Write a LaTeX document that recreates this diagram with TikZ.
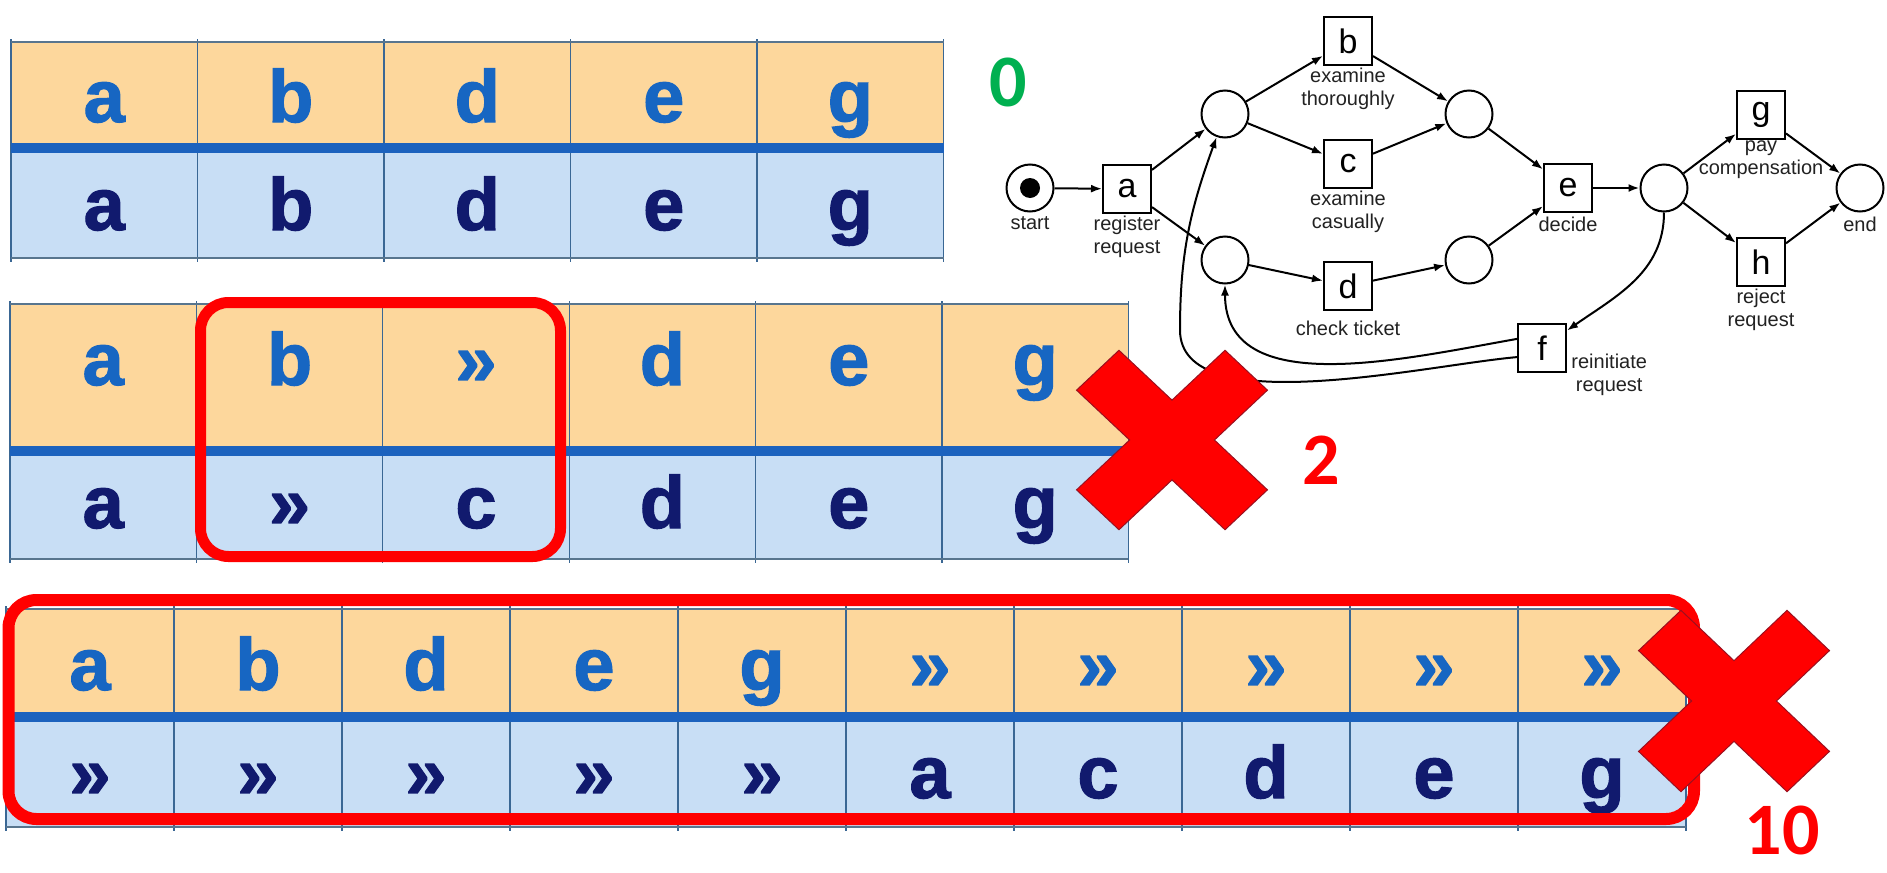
\documentclass[tikz,border=0pt]{standalone}
\usepackage{fontspec}
\setmainfont{Liberation Sans}
\newfontfamily\movefont{Liberation Sans}[BoldFeatures={FakeBold=1.6}]
\newfontfamily\scorefont{Carlito}
\usetikzlibrary{arrows.meta,positioning}

\definecolor{logpeach}{HTML}{FDD79C}
\definecolor{modelblue}{HTML}{C8DEF5}
\definecolor{logletter}{HTML}{1766C2}
\definecolor{modelletter}{HTML}{111A6E}
\definecolor{sepblue}{HTML}{1C62BE}
\definecolor{gridblue}{HTML}{3A6794}
\definecolor{rimgray}{HTML}{58758E}
\definecolor{markred}{HTML}{FF0000}
\definecolor{markedge}{HTML}{9A1020}
\definecolor{okgreen}{HTML}{00B050}
\definecolor{netgray}{HTML}{222222}

\tikzset{
  logfill/.style={fill=logpeach},
  modelfill/.style={fill=modelblue},
  gridline/.style={draw=gridblue, line width=0.6pt},
  rimline/.style={draw=rimgray, line width=1.4pt},
  sepline/.style={draw=sepblue, line width=5pt},
  logmove/.style={anchor=base, inner sep=0pt, text=logletter,
    font=\movefont\fontsize{37}{40}\selectfont\bfseries},
  modelmove/.style={anchor=base, inner sep=0pt, text=modelletter,
    font=\movefont\fontsize{37}{40}\selectfont\bfseries},
  costbox/.style={draw=markred, line width=5.5pt, rounded corners=14pt},
  crossmark/.style={fill=markred, draw=markedge, line width=0.5pt},
  score/.style={inner sep=0pt, font=\scorefont\fontsize{37}{40}\selectfont\bfseries},
  % Petri-Netz
  place/.style={circle, draw, line width=1pt, minimum size=23.5pt, inner sep=0pt},
  trans/.style={rectangle, draw, line width=1pt, minimum size=24pt, inner sep=0pt,
    font=\fontsize{17}{17}\selectfont},
  lbl/.style={font=\fontsize{10}{11.5}\selectfont, text=netgray, align=center, inner sep=1pt},
  arc/.style={-{Latex[length=5.5pt,width=4pt]}, line width=1pt},
  redcross/.pic={
    \path[crossmark] (30,30) -- (30,105) -- (-30,105) -- (-30,30) -- (-105,30)
      -- (-105,-30) -- (-30,-30) -- (-30,-105) -- (30,-105) -- (30,-30)
      -- (105,-30) -- (105,30) -- cycle;
  }
}

% Alignment: #1 Name, #2 Spalten, #3 Log-Zeile, #4 Modell-Zeile
\newcommand{\alignrows}[4]{%
  \fill[logfill] (\xLeft,\yTop) rectangle ({\xLeft+#2*\colW},\ySep);
  \fill[modelfill] (\xLeft,\ySep) rectangle ({\xLeft+#2*\colW},\yBot);
  \foreach \k in {0,...,#2}
    \draw[gridline] ({\xLeft+\k*\colW},{\yTop-3}) -- ({\xLeft+\k*\colW},{\yBot+4});
  \draw[rimline] (\xLeft,\yTop) -- ({\xLeft+#2*\colW},\yTop);
  \draw[rimline] (\xLeft,\yBot) -- ({\xLeft+#2*\colW},\yBot);
  \draw[sepline] (\xLeft,\ySep) -- ({\xLeft+#2*\colW},\ySep);
  \foreach \m [count=\i] in {#3}
    \node[logmove] (#1log\i) at ({\xLeft+(\i-0.5)*\colW},\baseLog) {\m};
  \foreach \m [count=\i] in {#4}
    \node[modelmove] (#1mod\i) at ({\xLeft+(\i-0.5)*\colW},\baseMod) {\m};
}

\begin{document}
\begin{tikzpicture}[x=0.5pt,y=-0.5pt]

% ---------- Rahmen (Pixelraster, y nach unten) ----------
\useasboundingbox (0,0) rectangle (1887,873);
\fill[white] (0,0) rectangle (1887,873);

% ===================
% oben: perfektes Alignment (Kosten 0)
% ===================
\begin{scope}
  \def\xLeft{11}  \def\colW{186.5}
  \def\yTop{42}   \def\ySep{148}  \def\yBot{258}
  \def\baseLog{122} \def\baseMod{230}
  \alignrows{first}{5}{a,b,d,e,g}{a,b,d,e,g}
\end{scope}

% ===================
% Mitte: ein Log- und ein Modell-Move (Kosten 2)
% ===================
\begin{scope}
  \def\xLeft{10}  \def\colW{186.4}
  \def\yTop{304}  \def\ySep{451}  \def\yBot{559}
  \def\baseLog{385} \def\baseMod{528}
  \alignrows{second}{6}{a,b,»,d,e,g}{a,»,c,d,e,g}
  \draw[costbox] (200.5,302.5) rectangle (560.5,556.5);
\end{scope}

% ===================
% unten: nur Log-/Modell-Moves (Kosten 10)
% ===================
\begin{scope}
  \def\xLeft{6}   \def\colW{168}
  \def\yTop{609}  \def\ySep{717}  \def\yBot{827}
  \def\baseLog{690} \def\baseMod{798}
  \alignrows{third}{10}{a,b,d,e,g,»,»,»,»,»}{»,»,»,»,»,a,c,d,e,g}
  \draw[costbox, line width=6pt] (8.5,600) rectangle (1694,819);
\end{scope}

% ===================
% rechts: Prozessmodell (Petri-Netz)
% ===================
\node[place] (start) at (1030,188) {};
\fill (start) circle (5pt);
\node[trans] (a) at (1127,189) {a};
\node[place] (p1) at (1225,114) {};
\node[place] (p2) at (1225,260) {};
\node[trans] (b) at (1348,41) {b};
\node[trans] (c) at (1348,164) {c};
\node[trans] (d) at (1348,286) {d};
\node[place] (p3) at (1469,114) {};
\node[place] (p4) at (1469,260) {};
\node[trans] (e) at (1568,188) {e};
\node[place] (p5) at (1664,188) {};
\node[trans] (g) at (1761,115) {g};
\node[trans] (h) at (1761,262) {h};
\node[place] (end) at (1860,188) {};
\node[trans] (f) at (1542,348) {f};
\coordinate (fbend) at (1180,330);

% Beschriftungen
\node[lbl, below=1pt of start] (startlbl) {start};
\node[lbl, below=0pt of a] (albl) {register\\request};
\node[lbl, below=0pt of b] (blbl) {examine\\thoroughly};
\node[lbl, below=0pt of c] (clbl) {examine\\casually};
\node[lbl, below=4pt of d] (dlbl) {check ticket};
\node[lbl, below=1pt of e] (elbl) {decide};
\node[lbl, below=-1pt of g] (glbl) {pay\\compensation};
\node[lbl, below=0pt of h] (hlbl) {reject\\request};
\node[lbl, below=1pt of end] (endlbl) {end};
\node[lbl, anchor=north west] (flbl) at ([xshift=1pt,yshift=-2pt]f.east) {reinitiate\\request};

% Kanten
\draw[arc] (start) -- (a);
\draw[arc] (a) -- (p1);
\draw[arc] (a) -- (p2);
\draw[arc] (p1) -- (b);
\draw[arc] (p1) -- (c);
\draw[arc] (p2) -- (d);
\draw[arc] (b) -- (p3);
\draw[arc] (c) -- (p3);
\draw[arc] (d) -- (p4);
\draw[arc] (p3) -- (e);
\draw[arc] (p4) -- (e);
\draw[arc] (e) -- (p5);
\draw[arc] (p5) -- (g);
\draw[arc] (p5) -- (h);
\draw[arc] (g) -- (end);
\draw[arc] (h) -- (end);
\draw[arc] (p5) to[out=-90, in=35] (f);
\draw[arc] (f.160) to[out=190, in=-90] (p2);
\draw[arc] (f.200) to[out=185, in=-90, looseness=0.7] (fbend)
  to[out=90, in=-110] (p1);

% ---------- Kreuze und Kosten ----------
\pic[yscale=0.94, rotate=45] at (1172,440) {redcross};
\pic[yscale=0.95, rotate=45] at (1734,701) {redcross};

\node[score, text=okgreen] (cost0) at (1008,82) {0};
\node[score, text=markred] (cost2) at (1321,460) {2};
\node[score, text=markred] (cost10) at (1782,830) {10};

\end{tikzpicture}
\end{document}
